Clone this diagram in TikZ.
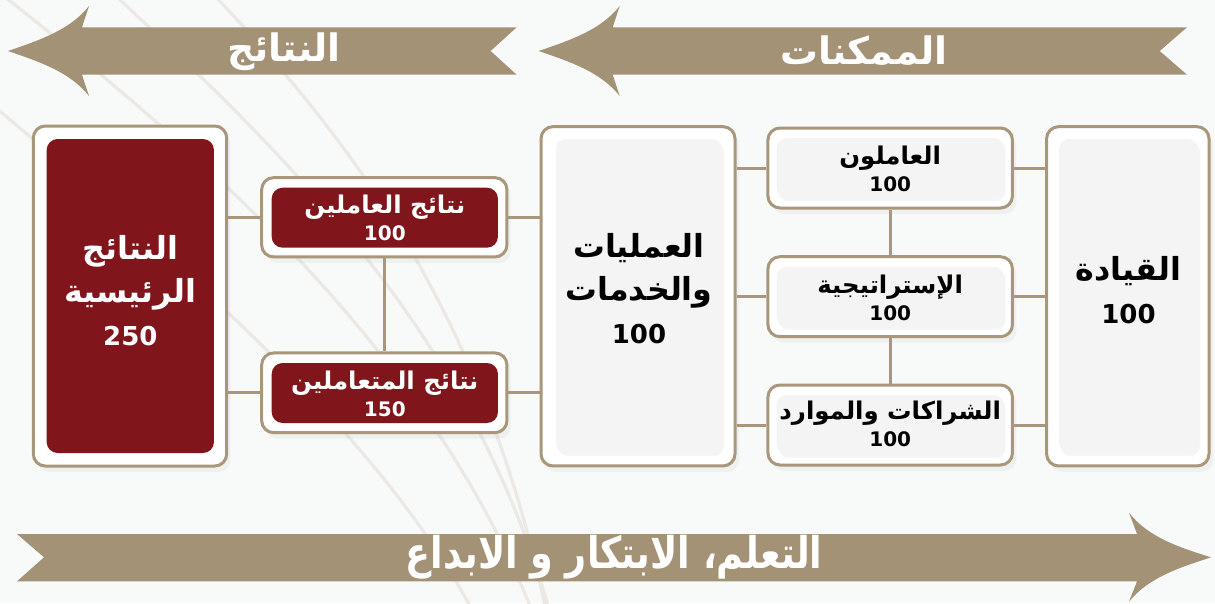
\documentclass[tikz,border=0pt]{standalone}
\usepackage{fontspec}
\usepackage{graphicx}
\setmainfont{DejaVu Sans}
\newfontfamily\ar[Script=Arabic, Scale=1.22]{DejaVu Sans}
\TeXXeTstate=1
\usetikzlibrary{shadows}
\definecolor{tan}{HTML}{A39275}
\definecolor{bord}{HTML}{A8977B}
\definecolor{dred}{HTML}{80161B}
\definecolor{bgc}{HTML}{F8F9F9}
\definecolor{bgl}{HTML}{ECE9E4}
\definecolor{innerc}{HTML}{F4F4F4}
\newcommand{\AR}[1]{{\ar\beginR #1\endR}}
\tikzset{
  bgline/.style={draw=bgl, line width=3.2pt},
  outerbox/.style={draw=bord, line width=3pt, fill=white, rounded corners=12pt, inner sep=0pt,
     drop shadow={opacity=0.07, shadow xshift=4pt, shadow yshift=-6pt}},
  redbox/.style={fill=dred, rounded corners=11pt, inner sep=0pt},
  greybox/.style={fill=innerc, rounded corners=10pt, inner sep=0pt,
     drop shadow={opacity=0.08, shadow xshift=2pt, shadow yshift=-3pt}},
  bigtxt/.style={font=\fontsize{26}{43}\selectfont\bfseries, align=center, inner sep=0pt},
  smalltxt/.style={font=\fontsize{20}{26.5}\selectfont\bfseries, align=center, inner sep=0pt},
  link/.style={draw=bord, line width=3pt},
  arrowtxt/.style={text=white, font=\fontsize{31}{34}\selectfont\bfseries, inner sep=0pt}
}
\begin{document}
\begin{tikzpicture}[x=1pt,y=-1pt]
\fill[bgc] (0,0) rectangle (1215,603);
\useasboundingbox (0,0) rectangle (1215,603);

% faint background swooshes
\draw[bgline] (-5,107) .. controls (200,280) and (380,440) .. (470,606);
\draw[bgline] (5,-3) .. controls (160,120) and (420,330) .. (530,606);
\draw[bgline] (117,-3) .. controls (280,150) and (470,330) .. (548,606);
\draw[bgline] (216,-3) .. controls (340,130) and (480,300) .. (545,606);

% top-left arrow
\fill[tan] (8,51) .. controls (40,40) and (70,30) .. (89,6) -- (82,27.3) -- (516.6,27.3) -- (490.6,51)
  -- (516.6,74.7) -- (82,74.7) -- (89,96) .. controls (70,72) and (40,62) .. (8,51) -- cycle;
\node[arrowtxt] (tNT) at (284,52) {\AR{النتائج}};

% top-right arrow
\fill[tan] (538.7,51) .. controls (570.7,40) and (600.7,30) .. (619.7,6) -- (612.7,27.3) -- (1187,27.3) -- (1159.7,51)
  -- (1187,74.7) -- (612.7,74.7) -- (619.7,96) .. controls (600.7,72) and (570.7,62) .. (538.7,51) -- cycle;
\node[arrowtxt] (tEN) at (864,51) {\AR{الممكنات}};

% bottom arrow
\fill[tan] (17,534) -- (1137,534) -- (1129,512.7) .. controls (1148,537) and (1178,547) .. (1211,557.3)
  .. controls (1178,568) and (1148,578) .. (1129,601.7) -- (1137,581.3) -- (17,581.3) -- (44,557.3) -- cycle;
\node[arrowtxt, font=\fontsize{28}{32}\selectfont\bfseries] (tLI) at (614,557) {\scalebox{1.07}[1.28]{\AR{التعلم، الابتكار و الابداع}}};

% outer boxes
\node[outerbox, minimum width=193.4pt, minimum height=340pt] (main) at (130,296) {};
\node[outerbox, minimum width=245.3pt, minimum height=79.3pt] (r1) at (384.3,217.3) {};
\node[outerbox, minimum width=245.3pt, minimum height=79.7pt] (r2) at (384.3,392.8) {};
\node[outerbox, minimum width=194pt, minimum height=339.3pt] (ops) at (638,296.3) {};
\node[outerbox, minimum width=244.5pt, minimum height=80pt] (m1) at (890.2,168) {};
\node[outerbox, minimum width=244.5pt, minimum height=80pt] (m2) at (890.2,296.7) {};
\node[outerbox, minimum width=244.5pt, minimum height=80pt] (m3) at (890.2,425) {};
\node[outerbox, minimum width=162.4pt, minimum height=339.3pt] (lead) at (1127.8,296.3) {};

% connectors
\draw[link] (main.east |- r1.west) -- (r1.west);
\draw[link] (main.east |- r2.west) -- (r2.west);
\draw[link] (r1.south) -- (r2.north);
\draw[link] (r1.east) -- (ops.west |- r1.east);
\draw[link] (r2.east) -- (ops.west |- r2.east);
\draw[link] (ops.east |- m1.west) -- (m1.west);
\draw[link] (ops.east |- m2.west) -- (m2.west);
\draw[link] (ops.east |- m3.west) -- (m3.west);
\draw[link] (m1.south) -- (m2.north);
\draw[link] (m2.south) -- (m3.north);
\draw[link] (m1.east) -- (lead.west |- m1.east);
\draw[link] (m2.east) -- (lead.west |- m2.east);
\draw[link] (m3.east) -- (lead.west |- m3.east);

% inner boxes
\node[redbox, minimum width=167.3pt, minimum height=314pt] (mainI) at (130.3,296) {};
\node[redbox, minimum width=226.3pt, minimum height=60pt] (r1I) at (384.8,217.7) {};
\node[redbox, minimum width=226.3pt, minimum height=60pt] (r2I) at (384.8,393) {};
\node[greybox, minimum width=166pt, minimum height=314pt] (opsI) at (639,296) {};
\node[greybox, minimum width=227pt, minimum height=60pt] (m1I) at (890.2,168) {};
\node[greybox, minimum width=227pt, minimum height=60pt] (m2I) at (890.2,296.7) {};
\node[greybox, minimum width=227pt, minimum height=60pt] (m3I) at (890.2,425) {};
\node[greybox, minimum width=139pt, minimum height=314pt] (leadI) at (1128.5,296) {};

% texts
\node[bigtxt, text=white] (mainT) at (130.3,291) {\AR{النتائج}\\\AR{الرئيسية}\\250};
\node[smalltxt, text=white] (r1T) at (384.8,218) {\AR{نتائج العاملين}\\100};
\node[smalltxt, text=white] (r2T) at (384.8,394) {\AR{نتائج المتعاملين}\\150};
\node[bigtxt] (opsT) at (639,289) {\AR{العمليات}\\\AR{والخدمات}\\100};
\node[smalltxt] (m1T) at (890.2,169) {\AR{العاملون}\\100};
\node[smalltxt] (m2T) at (890.2,298) {\AR{الإستراتيجية}\\100};
\node[smalltxt] (m3T) at (890.2,424) {\AR{الشراكات والموارد}\\100};
\node[bigtxt] (leadT) at (1128.5,290) {\AR{القيادة}\\100};
\end{tikzpicture}
\end{document}
